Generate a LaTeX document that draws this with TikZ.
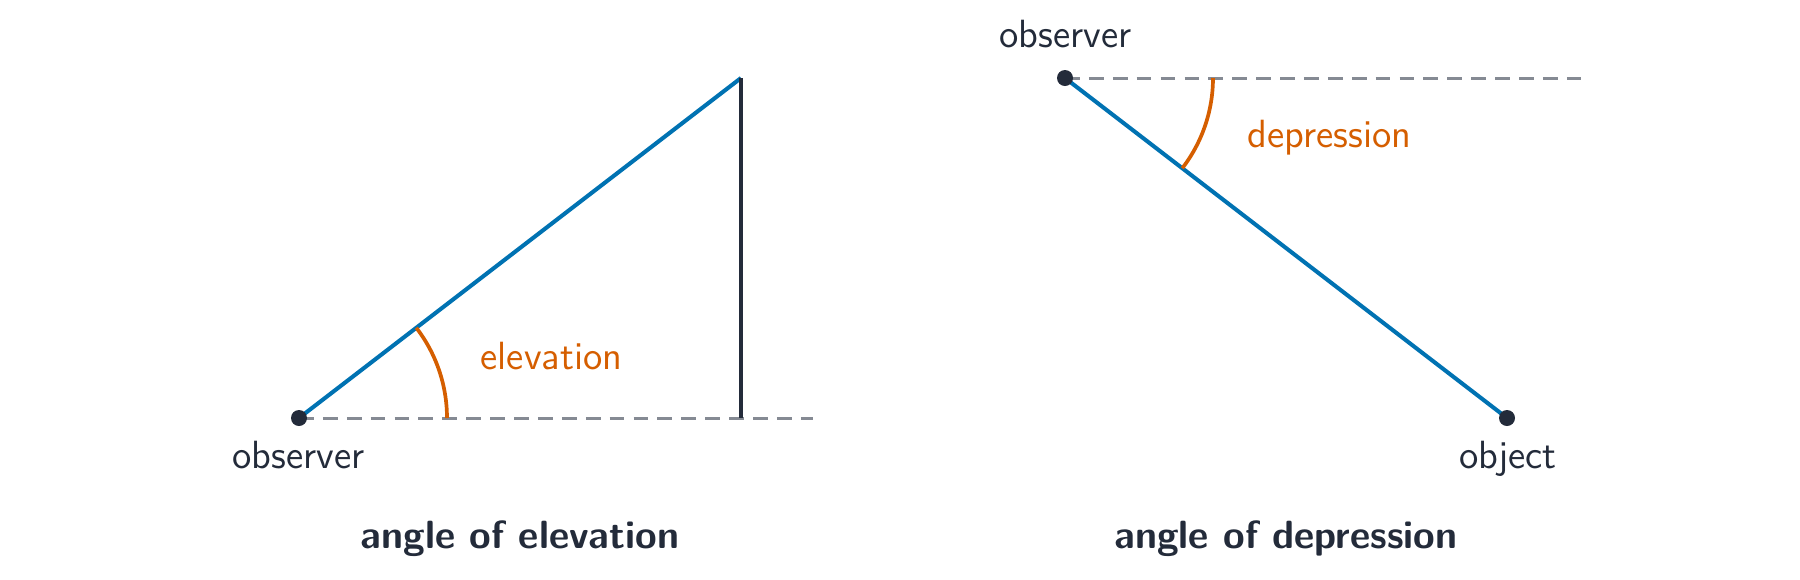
\documentclass[tikz,border=0pt]{standalone}
\usepackage{fontspec}
\definecolor{ink}{HTML}{232B3A}
\definecolor{blueline}{HTML}{0072B2}
\definecolor{angcol}{HTML}{D55E00}
\definecolor{dashgray}{HTML}{858A93}
\tikzset{
  lbl/.style={anchor=base, inner sep=0pt, text=ink, font=\sffamily\fontsize{11.2}{13}\selectfont},
  anglbl/.style={anchor=base west, inner sep=0pt, text=angcol, font=\sffamily\fontsize{11.2}{13}\selectfont},
  ttl/.style={anchor=base, inner sep=0pt, text=ink, font=\sffamily\bfseries\fontsize{11.2}{13}\selectfont},
  sight/.style={draw=blueline, line width=1.15pt},
  horiz/.style={draw=dashgray, line width=0.85pt, dash pattern=on 4.2pt off 2.6pt},
  angarc/.style={draw=angcol, line width=1.05pt},
  pole/.style={draw=ink, line width=1.15pt},
  dot/.style={circle, fill=ink, inner sep=0pt, minimum size=0.16cm}
}
\begin{document}
\begin{tikzpicture}
\useasboundingbox (0,0) rectangle (18,5.79);
% left: elevation
\coordinate (oL) at (2.99,1.61);
\coordinate (tL) at (7.41,5.01);
\coordinate (fL) at (7.41,1.61);
\coordinate (hL) at (8.13,1.61);
\draw[horiz] (oL) -- (hL);
\draw[sight] (oL) -- (tL);
\draw[pole] (tL) -- (fL);
\draw[angarc] ([shift={(0:1.48)}]oL) arc (0:37.57:1.48);
\node[dot] (dL) at (oL) {};
\node[lbl] (lobsL) at (2.985,1.11) {observer};
\node[anglbl] (lelev) at (4.80,2.10) {elevation};
\node[ttl] (ttlL) at (5.20,0.31) {angle of elevation};
% right: depression
\coordinate (oR) at (10.65,5.01);
\coordinate (bR) at (15.07,1.61);
\coordinate (hR) at (15.81,5.01);
\draw[horiz] (oR) -- (hR);
\draw[sight] (oR) -- (bR);
\draw[angarc] ([shift={(0:1.48)}]oR) arc (0:-37.57:1.48);
\node[dot] (dR) at (oR) {};
\node[dot] (dB) at (bR) {};
\node[lbl] (lobsR) at (10.655,5.32) {observer};
\node[lbl] (lobj) at (15.08,1.11) {object};
\node[anglbl] (ldep) at (12.47,4.32) {depression};
\node[ttl] (ttlR) at (12.86,0.31) {angle of depression};
\end{tikzpicture}
\end{document}
